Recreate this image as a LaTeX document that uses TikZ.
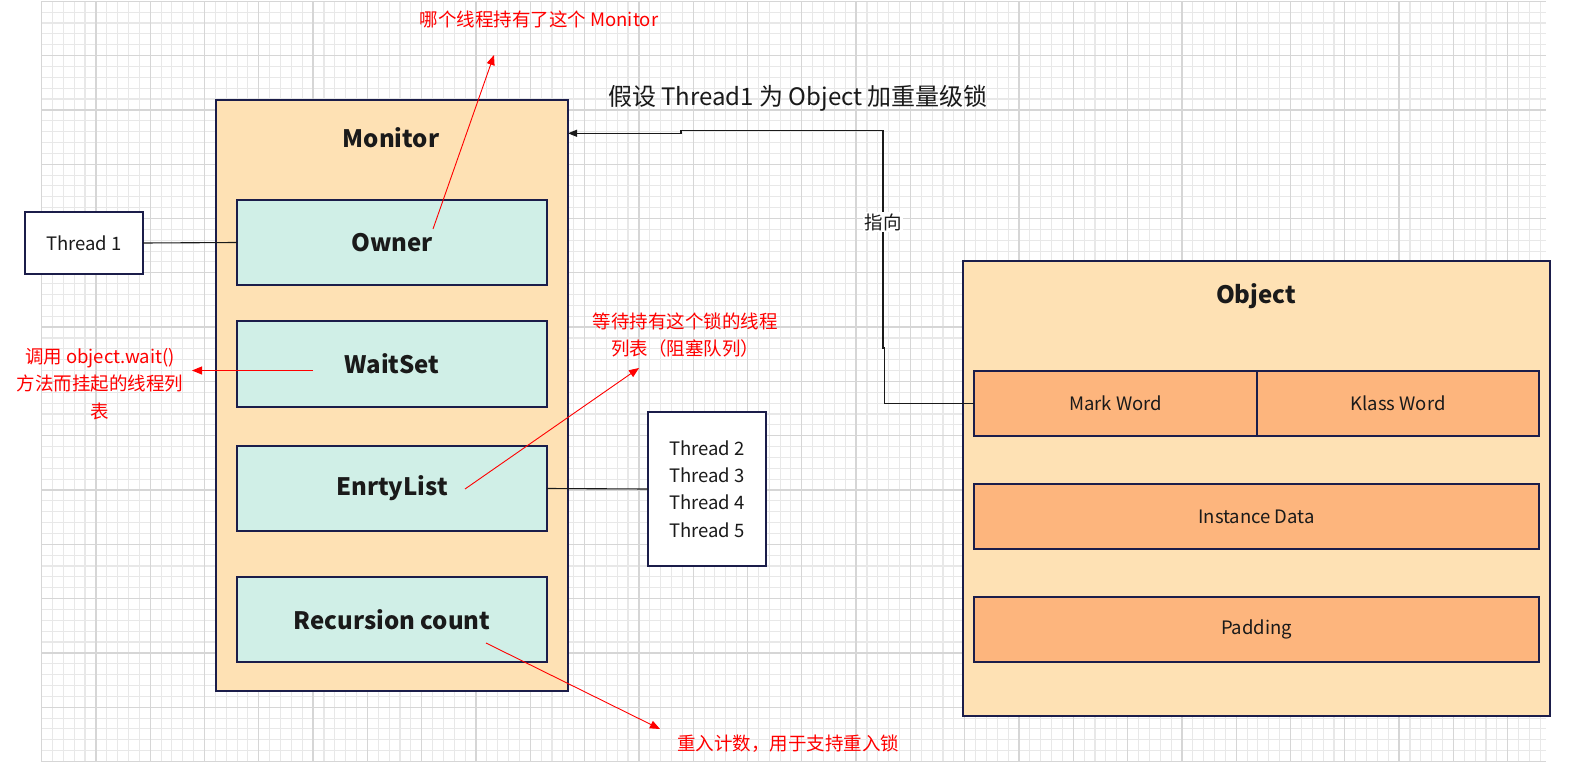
\documentclass[tikz,border=0pt]{standalone}
\usepackage{fontspec}
\setmainfont{Noto Sans CJK SC}
\usetikzlibrary{arrows.meta}
\definecolor{bordc}{HTML}{1B1D4A}
\definecolor{outerfill}{HTML}{FEE1B4}
\definecolor{innerfill}{HTML}{D0EFE7}
\definecolor{wordfill}{HTML}{FDB57D}
\definecolor{gridminor}{HTML}{E8E8E8}
\definecolor{gridmajor}{HTML}{D6D6D6}
\definecolor{redc}{HTML}{FF0000}
\definecolor{textc}{HTML}{1A1A1A}
\begin{document}
\begin{tikzpicture}[x=1pt,y=-1pt,
  box/.style={draw=bordc, line width=1.2pt, inner sep=0pt, outer sep=0pt, anchor=north west, text=textc},
  outerbox/.style={box, fill=outerfill},
  innerbox/.style={box, fill=innerfill, font=\fontsize{24}{28}\selectfont\bfseries},
  wordbox/.style={box, fill=wordfill, font=\fontsize{18.5}{27}\selectfont},
  whitebox/.style={box, fill=white, font=\fontsize{18.5}{27.3}\selectfont, align=center},
  titletext/.style={text=textc, font=\fontsize{24}{28}\selectfont\bfseries},
  redtext/.style={text=redc, font=\fontsize{18.5}{27.5}\selectfont, align=center, inner sep=0pt},
  conn/.style={draw=textc, line width=1.1pt},
  redarrow/.style={draw=redc, line width=0.9pt, -{Triangle[length=10pt,width=8pt]}}
]
\useasboundingbox (0,0) rectangle (1572,773);
\fill[white] (0,0) rectangle (1572,773);
% grid
\foreach \i in {0,...,138} {
  \pgfmathsetmacro\xx{41.6+\i*10.86}
  \draw[gridminor, line width=1.1pt] (\xx,1.3) -- (\xx,761.5);
}
\foreach \j in {0,...,70} {
  \pgfmathsetmacro\yy{1.3+\j*10.86}
  \draw[gridminor, line width=1.1pt] (41.6,\yy) -- (1545.7,\yy);
}
\foreach \i in {0,5,...,135} {
  \pgfmathsetmacro\xx{41.6+\i*10.86}
  \draw[gridmajor, line width=1.3pt] (\xx,1.3) -- (\xx,761.5);
}
\foreach \j in {0,5,...,70} {
  \pgfmathsetmacro\yy{1.3+\j*10.86}
  \draw[gridmajor, line width=1.3pt] (41.6,\yy) -- (1545.7,\yy);
}

% Monitor
\node[outerbox, minimum width=352, minimum height=591] (monitor) at (216,100) {};
\node[titletext] (mtitle) at (391,138) {Monitor};
\node[innerbox, minimum width=310, minimum height=85] (owner) at (237,200) {Owner};
\node[innerbox, minimum width=310, minimum height=86] (waitset) at (237,321) {WaitSet};
\node[innerbox, minimum width=310, minimum height=85] (entry) at (237,446) {EnrtyList};
\node[innerbox, minimum width=310, minimum height=85] (recur) at (237,577) {Recursion count};

% Threads
\node[whitebox, minimum width=118, minimum height=62] (thread1) at (25,212) {Thread 1};
\node[whitebox, minimum width=118, minimum height=154] (threads) at (648,412) {Thread 2\\Thread 3\\Thread 4\\Thread 5};
\draw[conn] (thread1.east) -- (owner.west);
\draw[conn] (entry.east) -- (threads.west);

% Object
\node[outerbox, minimum width=587, minimum height=455] (object) at (963,261) {};
\node[titletext] (otitle) at (1256,296) {Object};
\node[wordbox, minimum width=283, minimum height=65] (mark) at (974,371) {Mark Word};
\node[wordbox, minimum width=282, minimum height=65] (klass) at (1257,371) {Klass Word};
\node[wordbox, minimum width=565, minimum height=65] (inst) at (974,484) {Instance Data};
\node[wordbox, minimum width=565, minimum height=65] (pad) at (974,597) {Padding};

% pointer connector
\coordinate (mpin) at (568,133.3);
\draw[conn, -{Triangle[length=9pt,width=7pt]}] (mark.west) -- (884.5,403.5) -- (884.5,348) -- (883,348) -- (883,130.7) -- (681,130.7) -- (681,133.3) -- (mpin);
\node[fill=white, inner sep=1.5pt, text=textc, font=\fontsize{18.5}{22}\selectfont] (zhixiang) at (883,222) {指向};

% title
\node[text=textc, font=\fontsize{24}{28}\selectfont] (title) at (798,98) {假设 Thread1 为 Object 加重量级锁};

% red annotations
\node[redtext] (lbowner) at (539,19) {哪个线程持有了这个 Monitor};
\node[redtext] (lbwait) at (100,384) {调用 object.wait()\\方法而挂起的线程列\\表};
\node[redtext] (lbentry) at (685,335) {等待持有这个锁的线程\\列表（阻塞队列）};
\node[redtext] (lbrecur) at (788,744) {重入计数，用于支持重入锁};

\coordinate (s1) at (433,229);
\coordinate (t1) at (494,55);
\coordinate (s2) at (313,370.5);
\coordinate (t2) at (192,370.5);
\coordinate (s3) at (465,489);
\coordinate (t3) at (639,368);
\coordinate (s4) at (486,643);
\coordinate (t4) at (660,729);
\draw[redarrow] (s1) -- (t1);
\draw[redarrow] (s2) -- (t2);
\draw[redarrow] (s3) -- (t3);
\draw[redarrow] (s4) -- (t4);
\end{tikzpicture}
\end{document}
